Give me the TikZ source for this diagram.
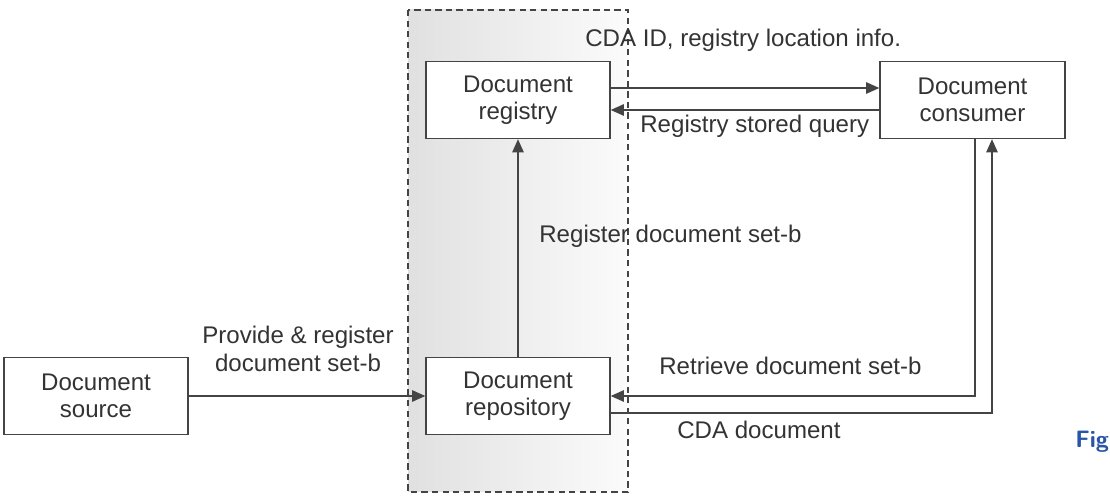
\documentclass[tikz,border=0pt]{standalone}
\usepackage{fontspec}
\setmainfont{Liberation Sans}
\usetikzlibrary{arrows.meta,calc}
\definecolor{ln}{HTML}{444444}
\definecolor{tx}{HTML}{333333}
\definecolor{figblue}{RGB}{40,85,165}
\begin{document}
\begin{tikzpicture}[x=0.02cm,y=-0.02cm,
  txt/.style={font=\fontsize{13.7}{15.5}\selectfont, text=tx, align=center, inner sep=0pt},
  box/.style={draw=ln, line width=0.8pt, fill=white, minimum width=3.68cm, minimum height=1.54cm, inner sep=0pt, txt},
  arr/.style={draw=ln, line width=0.8pt, -{Triangle[length=7.5pt,width=6.5pt]}},
  lnk/.style={draw=ln, line width=0.8pt}]
\useasboundingbox (0,0) rectangle (1110,496);
% dashed region
\draw[ln, line width=0.8pt, dash pattern=on 3.6pt off 2.4pt, left color=gray!24, right color=gray!3]
  (408,10) rectangle (628,492);
% boxes
\node[box] (registry) at (518,100) {Document\\registry};
\node[box, minimum width=3.7cm] (consumer) at (972.5,100) {Document\\consumer};
\node[box] (repository) at (518,396) {Document\\repository};
\node[box] (source) at (96,396) {Document\\source};
% connectors
\draw[arr] (registry.east |- 0,88) -- (consumer.west |- 0,88);
\draw[arr] (consumer.west |- 0,110) -- (registry.east |- 0,110);
\draw[arr] (repository.north) -- (registry.south);
\draw[arr] (source.east) -- (repository.west);
\draw[arr] (consumer.south -| 975,0) |- (repository.east |- 0,396);
\draw[arr] (repository.east |- 0,413) -| (consumer.south -| 992,0);
% labels
\node[txt, anchor=base west] at (585,47) {CDA ID, registry location info.};
\node[txt, anchor=base west] at (640,133) {Registry stored query};
\node[txt, anchor=base west] at (539,243) {Register document set-b};
\node[txt] at (298,349) {Provide \& register\\document set-b};
\node[txt, anchor=base west] at (659,375) {Retrieve document set-b};
\node[txt, anchor=base west] at (677,439) {CDA document};
\node[font=\fontsize{13.5}{16}\selectfont\bfseries\sffamily, text=figblue, anchor=base west, inner sep=0pt] at (1075,448) {Fig};
\end{tikzpicture}
\end{document}
